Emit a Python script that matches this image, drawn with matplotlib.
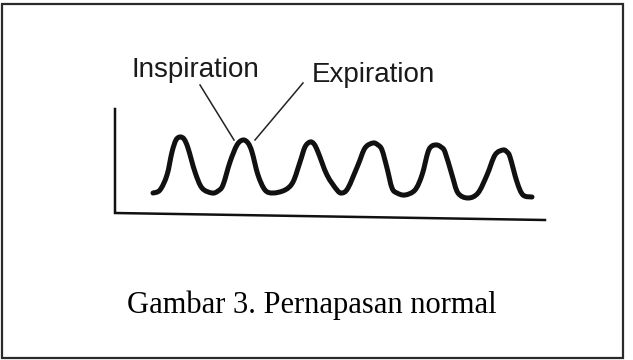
import matplotlib.pyplot as plt
from matplotlib.patches import Rectangle, PathPatch
from matplotlib.path import Path

# Breathing trace (pixel units, y grows downward)
wave_x = [153, 160, 167, 172, 176, 180, 184, 188, 195, 202, 212,
          218, 223, 230, 237, 243, 248, 252, 258, 265, 273,
          285, 293, 300, 305, 310, 314, 318, 327, 337,
          342, 348, 358, 365, 373, 378, 382, 387, 392, 397, 405,
          415, 422, 428, 432, 437, 441, 445, 452, 458, 468,
          478, 487, 495, 503, 507, 510, 517, 523, 532]
wave_y = [193, 190, 175, 152, 140, 137, 139, 148, 172, 188, 193,
          191, 185, 162, 145, 140, 143, 152, 175, 190, 193,
          190, 182, 162, 147, 142, 144, 152, 175, 190,
          193, 188, 165, 148, 143, 145, 150, 168, 188, 193, 195,
          190, 175, 152, 146, 145, 147, 152, 175, 193, 198,
          193, 175, 155, 150, 152, 157, 182, 195, 197]

# Axis lines of the sketch
axis_x = [115, 115, 545]
axis_y = [109, 213, 220]

# Labels and their leader lines
labels = ["Inspiration", "Expiration"]
label_x = [132, 312]
label_y = [77, 82]
leader_start = [(200, 85), (303, 83)]
leader_end = [(234, 140), (255, 140)]

caption = "Gambar 3. Pernapasan normal"


def smooth_path(xs, ys):
    # cubic bezier through the points (catmull-rom style handles)
    pts = list(zip(xs, ys))
    verts = [pts[0]]
    codes = [Path.MOVETO]
    for i in range(len(pts) - 1):
        p0 = pts[i - 1] if i > 0 else pts[i]
        p1, p2 = pts[i], pts[i + 1]
        p3 = pts[i + 2] if i + 2 < len(pts) else pts[i + 1]
        c1 = (p1[0] + (p2[0] - p0[0]) / 6, p1[1] + (p2[1] - p0[1]) / 6)
        c2 = (p2[0] - (p3[0] - p1[0]) / 6, p2[1] - (p3[1] - p1[1]) / 6)
        verts += [c1, c2, p2]
        codes += [Path.CURVE4] * 3
    return Path(verts, codes)


fig = plt.figure(figsize=(6.33, 3.6), dpi=100)
ax = fig.add_axes([0, 0, 1, 1])
ax.set_xlim(0, 633)
ax.set_ylim(360, 0)
ax.axis('off')

# frame around the figure
ax.add_patch(Rectangle((1.5, 3.5), 621, 354, fill=False, edgecolor='#2a2a2a', linewidth=1.6))

ax.plot(axis_x, axis_y, color='#111111', linewidth=1.8, solid_joinstyle='miter')
ax.add_patch(PathPatch(smooth_path(wave_x, wave_y), fill=False, edgecolor='#111111',
                       linewidth=3.6, joinstyle='round', capstyle='round'))

for (x0, y0), (x1, y1) in zip(leader_start, leader_end):
    ax.plot([x0, x1], [y0, y1], color='#222222', linewidth=1.1)

for txt, x, y in zip(labels, label_x, label_y):
    ax.text(x, y, txt, fontsize=20, family='Liberation Sans', color='#1a1a1a',
            ha='left', va='baseline')

ax.text(311.5, 313, caption, fontsize=22, family='Liberation Serif', color='black',
        ha='center', va='baseline')

fig.savefig('out.png', dpi=100)
